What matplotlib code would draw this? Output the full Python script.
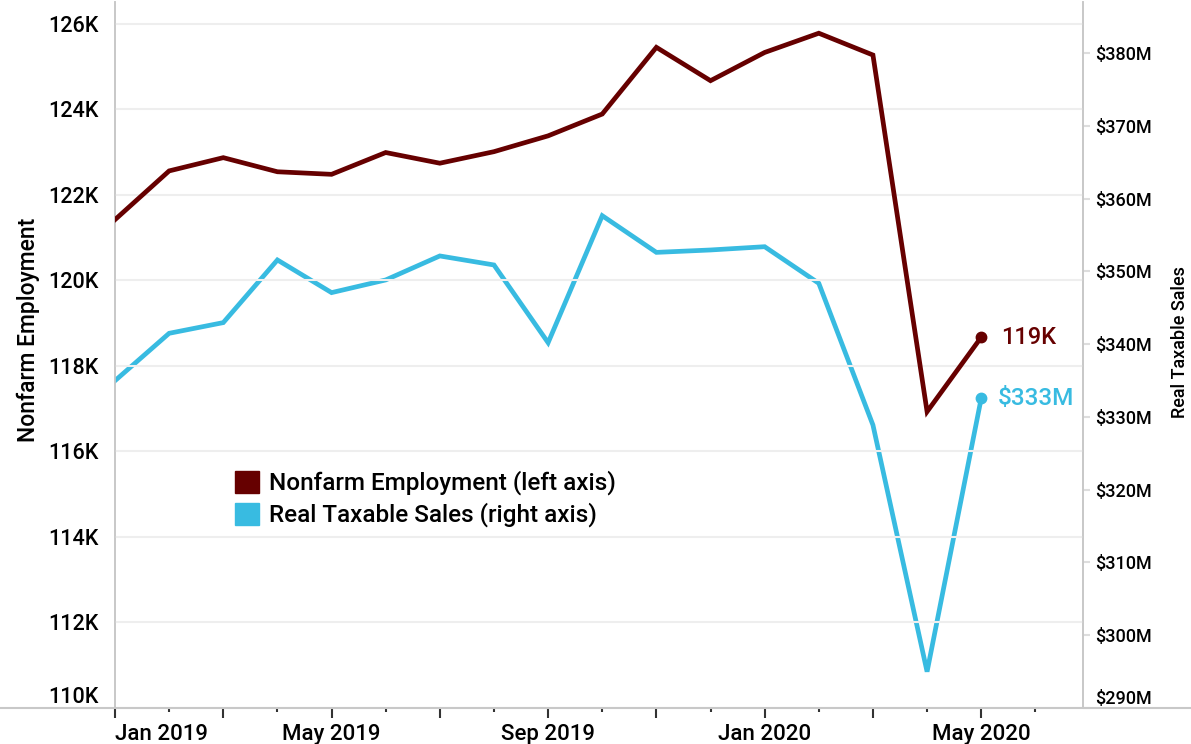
import matplotlib.pyplot as plt
from matplotlib.patches import Patch
from matplotlib.lines import Line2D

# ---------------- données ----------------
mois = ["Jan 2019", "Feb 2019", "Mar 2019", "Apr 2019", "May 2019", "Jun 2019",
        "Jul 2019", "Aug 2019", "Sep 2019", "Oct 2019", "Nov 2019", "Dec 2019",
        "Jan 2020", "Feb 2020", "Mar 2020", "Apr 2020", "May 2020"]
emploi = [121.42, 122.56, 122.87, 122.54, 122.48, 122.99, 122.74, 123.01, 123.38,
          123.89, 125.45, 124.67, 125.33, 125.78, 125.27, 116.93, 118.67]   # milliers
ventes = [334.97, 341.48, 342.95, 351.56, 347.07, 348.81, 352.11, 350.87, 340.19,
          357.64, 352.60, 352.93, 353.38, 348.35, 328.88, 294.99, 332.55]   # millions $
labels_x = ["Jan 2019", "May 2019", "Sep 2019", "Jan 2020", "May 2020"]
pos_labels_x = [0, 4, 8, 12, 16]
ticks_gauche = [110, 112, 114, 116, 118, 120, 122, 124, 126]
ticks_droite = [290, 300, 310, 320, 330, 340, 350, 360, 370, 380]

rouge = "#660000"
bleu = "#38BBE1"

plt.rcParams['font.family'] = ['Roboto', 'DejaVu Sans']
plt.rcParams['font.weight'] = 'medium'

x = list(range(len(mois)))

fig = plt.figure(figsize=(11.91, 7.44), dpi=100)
ax = fig.add_axes([115/1191, 36/744, 968/1191, 706/744])
ax2 = ax.twinx()

ax.set_zorder(ax2.get_zorder() + 1)
ax.patch.set_visible(False)

ax.plot(x, emploi, color=rouge, lw=3.4, solid_joinstyle='miter', zorder=3)
ax.plot(x[-1], emploi[-1], 'o', color=rouge, ms=7.5, zorder=4)
ax2.plot(x, ventes, color=bleu, lw=3.4, solid_joinstyle='miter', zorder=3)
ax2.plot(x[-1], ventes[-1], 'o', color=bleu, ms=7.5, zorder=4)

ax.annotate("%dK" % round(emploi[-1]), (x[-1], emploi[-1]), xytext=(14, 0),
            textcoords='offset points', va='center', color=rouge, fontsize=17)
ax2.annotate("$%dM" % round(ventes[-1]), (x[-1], ventes[-1]), xytext=(12, 0),
             textcoords='offset points', va='center', color=bleu, fontsize=17.5)

# axes
ax.set_xlim(0, 17.88)
ax.set_ylim(110, 126.51)
ax2.set_ylim(290, 387.0)

ax.set_yticks(ticks_gauche)
ax.set_yticklabels(["%dK" % v for v in ticks_gauche], fontsize=15.5)
ax.tick_params(axis='y', length=0, pad=12)
ax.yaxis.grid(True, color="#EEEEEE", lw=1.5)
ax.set_axisbelow(True)
ax.get_yticklabels()[0].set_va('bottom')

ax2.set_yticks(ticks_droite)
ax2.set_yticklabels(["$%dM" % v for v in ticks_droite], fontsize=13)
ax2.tick_params(axis='y', length=5, color="#DDDDDD", width=1.5, pad=4)
ax2.get_yticklabels()[0].set_va('bottom')

ax.set_xticks(range(0, 18, 2))
ax.set_xticks(range(1, 18, 2), minor=True)
ax.set_xticklabels([""] * 9)
ax.tick_params(axis='x', which='major', length=7, width=1.5, color="#333333")
ax.tick_params(axis='x', which='minor', length=3, width=1.5, color="#333333")
for p, lab in zip(pos_labels_x, labels_x):
    ax.text(p, -0.022, lab, transform=ax.get_xaxis_transform(), fontsize=16,
            ha='left' if p == 0 else 'center', va='top')

for a in (ax, ax2):
    for s in ("top", "bottom"):
        a.spines[s].set_visible(False)
    a.spines["left"].set_color("#C8C8C8")
    a.spines["right"].set_color("#C8C8C8")
    a.spines["left"].set_linewidth(1.2)
    a.spines["right"].set_linewidth(1.2)

# ligne de base sur toute la largeur
fig.add_artist(Line2D([0, 1], [36/744, 36/744], color="#C8C8C8", lw=1.5))

fig.text(28/1191, 1 - 330/744, "Nonfarm Employment", rotation=90, fontsize=16.5,
         ha='center', va='center')
fig.text(1189/1191, 1 - 342/744, "Real Taxable Sales", rotation=90, fontsize=13,
         ha='right', va='center')

handles = [Patch(color=rouge), Patch(color=bleu)]
ax.legend(handles, ["Nonfarm Employment (left axis)", "Real Taxable Sales (right axis)"],
          loc='upper left', bbox_to_anchor=(0.124, 0.336), frameon=False,
          fontsize=17.5, handlelength=1.0, handleheight=1.0, handletextpad=0.4,
          labelspacing=0.3, borderpad=0, borderaxespad=0)

plt.savefig("out.png", dpi=100)
